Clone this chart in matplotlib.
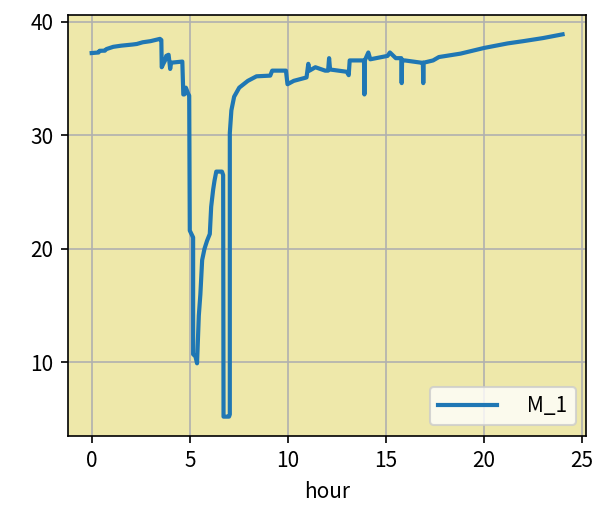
import matplotlib
matplotlib.use("Agg")
import matplotlib.pyplot as plt

plt.rcParams['font.family'] = ['Noto Sans CJK JP', 'DejaVu Sans']

# hour of day vs. reading of M_1
hour = [0.0, 0.35, 0.4, 0.67, 0.75, 1.1, 1.5, 2.07, 2.3, 2.6,
        3.0, 3.48, 3.55, 3.57, 3.65, 3.74, 3.8, 3.92, 3.96, 4.0,
        4.05, 4.62, 4.67, 4.72, 4.8, 4.92, 4.97, 5.0, 5.17, 5.17,
        5.29, 5.37, 5.46, 5.54, 5.63, 5.75, 5.88, 6.02, 6.09, 6.19,
        6.26, 6.35, 6.64, 6.70, 6.72, 7.0, 7.04, 7.04, 7.12, 7.26,
        7.52, 7.96, 8.4, 9.1, 9.2, 9.9, 9.98, 10.3, 10.95, 11.04,
        11.1, 11.4, 11.9, 12.05, 12.1, 12.15, 13.0, 13.1, 13.15, 13.7,
        13.88, 13.9, 13.92, 14.1, 14.2, 15.08, 15.2, 15.5, 15.78, 15.8,
        15.82, 15.96, 16.8, 16.88, 16.9, 16.92, 17.4, 17.7, 18.8, 20.0,
        21.2, 22.0, 23.0, 24.0]
m_1 = [37.25, 37.3, 37.45, 37.46, 37.6, 37.8, 37.9, 38.0, 38.05, 38.2,
       38.3, 38.5, 38.4, 36.0, 36.3, 36.6, 37.0, 37.1, 36.5, 35.85,
       36.4, 36.5, 33.6, 33.6, 34.2, 33.65, 33.5, 21.6, 21.0, 10.7,
       10.5, 9.9, 14.1, 16.0, 19.0, 20.0, 20.7, 21.3, 23.7, 25.2,
       26.0, 26.8, 26.8, 26.5, 5.2, 5.2, 5.4, 30.2, 32.2, 33.4,
       34.2, 34.8, 35.2, 35.26, 35.7, 35.7, 34.5, 34.8, 35.1, 36.3,
       35.7, 36.0, 35.7, 35.7, 36.8, 35.8, 35.6, 35.3, 36.6, 36.6,
       36.6, 33.6, 36.6, 37.3, 36.7, 37.0, 37.3, 36.8, 36.8, 34.6,
       36.6, 36.6, 36.4, 36.4, 34.6, 36.4, 36.6, 36.9, 37.2, 37.7,
       38.1, 38.3, 38.57, 38.9]
y_ticks = [10, 20, 30, 40]

fig, ax = plt.subplots(figsize=(6.03 / 1.5, 5.25 / 1.5), dpi=150)
fig.subplots_adjust(left=0.113, right=0.972, top=0.971, bottom=0.17)

ax.set_facecolor('palegoldenrod')
ax.plot(hour, m_1, lw=2, label='   M_1')
ax.set_yticks(y_ticks)
ax.grid(True)
ax.set_axisbelow(True)
ax.set_xlabel('hour')
ax.legend(loc='lower right', handlelength=2.8)

fig.savefig('out.png', dpi=150)
